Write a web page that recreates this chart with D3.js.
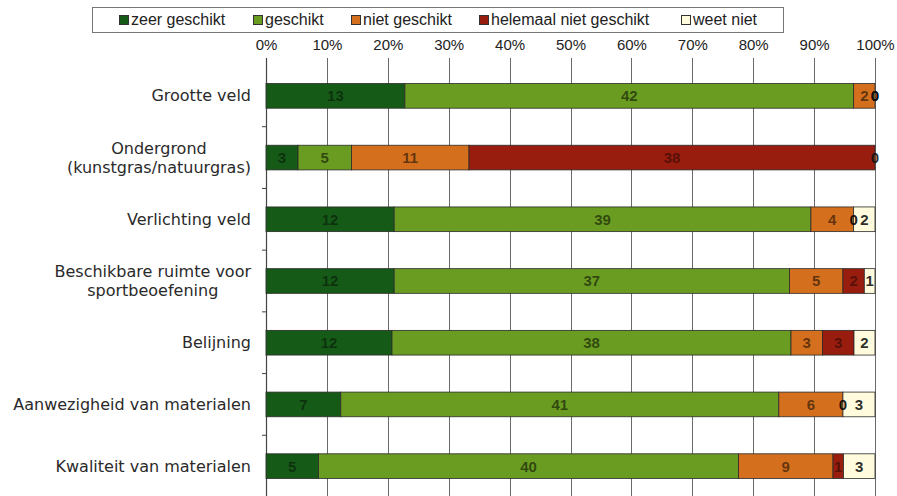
<!DOCTYPE html>
<html>
<head>
<meta charset="utf-8">
<script src="https://cdn.jsdelivr.net/npm/d3@7"></script>
<style>
  html, body { margin: 0; padding: 0; background: #fff; }
  svg { display: block; }
</style>
</head>
<body>
<svg id="chart" width="897" height="496"></svg>
<script>
// ---- data ----
const categories = [
  "Grootte veld",
  "Ondergrond\n(kunstgras/natuurgras)",
  "Verlichting veld",
  "Beschikbare ruimte voor\nsportbeoefening",
  "Belijning",
  "Aanwezigheid van materialen",
  "Kwaliteit van materialen"
];
const seriesNames = ["zeer geschikt", "geschikt", "niet geschikt", "helemaal niet geschikt", "weet niet"];
const zeerGeschikt   = [13, 3, 12, 12, 12, 7, 5];
const geschikt       = [42, 5, 39, 37, 38, 41, 40];
const nietGeschikt   = [2, 11, 4, 5, 3, 6, 9];
const helemaalNiet   = [0, 38, 0, 2, 3, 0, 1];
const weetNiet       = [0, 0, 2, 1, 2, 3, 3];
const tickValues = [0, 0.1, 0.2, 0.3, 0.4, 0.5, 0.6, 0.7, 0.8, 0.9, 1];
const tickLabels = ["0%", "10%", "20%", "30%", "40%", "50%", "60%", "70%", "80%", "90%", "100%"];
const colors = ["#165a18", "#6a9c22", "#d4701d", "#991d0e", "#fffbdc"];

// ---- build table ----
const seriesValues = [zeerGeschikt, geschikt, nietGeschikt, helemaalNiet, weetNiet];
const rows = categories.map((c, i) => {
  const r = { cat: c };
  seriesNames.forEach((s, j) => r[s] = seriesValues[j][i]);
  r.total = d3.sum(seriesValues, v => v[i]);
  return r;
});
const stack = d3.stack().keys(seriesNames)
  .value((d, k) => d[k] / d.total);
const stacked = stack(rows);

const svg = d3.select("#chart");
const plotLeft = 266, plotRight = 875, plotTop = 65, plotBottom = 497;
const x = d3.scaleLinear().domain([0, 1]).range([plotLeft, plotRight]);
const y = d3.scaleBand().domain(categories).range([plotTop, plotBottom])
  .paddingInner(0.6).paddingOuter(0.3);

// gridlines
svg.append("g").selectAll("line").data(tickValues).join("line")
  .attr("x1", d => Math.round(x(d)) + 0.5).attr("x2", d => Math.round(x(d)) + 0.5)
  .attr("y1", 58).attr("y2", 496)
  .attr("stroke", "#6a6a6a").attr("stroke-width", 1);

// left axis
svg.append("line")
  .attr("x1", plotLeft + 0.5).attr("x2", plotLeft + 0.5).attr("y1", 58).attr("y2", 496)
  .attr("stroke", "#444").attr("stroke-width", 1.2);
const step = y.step();
svg.append("g").selectAll("line").data(categories).join("line")
  .attr("x1", plotLeft - 4).attr("x2", plotLeft)
  .attr("y1", d => y(d) + y.bandwidth() / 2 + step / 2)
  .attr("y2", d => y(d) + y.bandwidth() / 2 + step / 2)
  .attr("stroke", "#444");

// top axis
const axis = d3.axisTop(x).tickValues(tickValues)
  .tickFormat((d, i) => tickLabels[i]).tickSize(0).tickPadding(0);
const ax = svg.append("g").attr("transform", "translate(0,50)").call(axis);
ax.select(".domain").remove();
ax.selectAll("text")
  .attr("font-family", "'Liberation Sans Narrow', 'Arial Narrow', 'Liberation Sans', sans-serif")
  .attr("font-size", 15).attr("fill", "#222");

// bars
const groups = svg.append("g").selectAll("g").data(stacked).join("g")
  .attr("fill", (d, i) => colors[i]);
groups.selectAll("rect").data(d => d).join("rect")
  .attr("x", d => x(d[0]))
  .attr("y", d => y(d.data.cat))
  .attr("width", d => Math.max(0, x(d[1]) - x(d[0])))
  .attr("height", y.bandwidth())
  .attr("stroke", "#2b2b2b").attr("stroke-width", 0.8);

// value labels
stacked.forEach((ser, si) => {
  svg.append("g").selectAll("text").data(ser).join("text")
    .attr("x", d => (x(d[0]) + x(d[1])) / 2)
    .attr("y", d => y(d.data.cat) + y.bandwidth() / 2)
    .attr("dy", "0.36em")
    .attr("text-anchor", "middle")
    .attr("font-family", "'Liberation Sans Narrow', 'Arial Narrow', 'Liberation Sans', sans-serif")
    .attr("font-weight", "bold")
    .attr("font-size", 15)
    .attr("fill", si === 4 ? "#111" : "#000")
    .attr("fill-opacity", d => (si === 4 || d.data[ser.key] === 0) ? 0.9 : (si === 0 || si === 3 ? 0.45 : 0.55))
    .text(d => d.data[ser.key]);
});

// category labels
const labelX = 251;
categories.forEach(c => {
  const lines = c.split("\n");
  const cy = y(c) + y.bandwidth() / 2;
  const g = svg.append("g");
  const lh = 19;
  const texts = lines.map((ln, i) => g.append("text")
    .attr("y", cy + (i - (lines.length - 1) / 2) * lh)
    .attr("dy", "0.35em")
    .attr("font-family", "'DejaVu Sans', sans-serif")
    .attr("font-size", 16)
    .attr("fill", "#2a2a2a")
    .text(ln));
  if (lines.length === 1) {
    texts[0].attr("x", labelX).attr("text-anchor", "end");
  } else {
    const w = d3.max(texts, t => t.node().getComputedTextLength());
    texts.forEach(t => t.attr("x", labelX - w / 2).attr("text-anchor", "middle"));
  }
});

// legend
const lg = svg.append("g");
lg.append("rect").attr("x", 92.5).attr("y", 7.5).attr("width", 691).attr("height", 25)
  .attr("fill", "#fff").attr("stroke", "#777").attr("stroke-width", 1);
const legendX = [119, 253, 351, 479, 681];
seriesNames.forEach((s, i) => {
  lg.append("rect").attr("x", legendX[i] + 0.5).attr("y", 15.5).attr("width", 9).attr("height", 9)
    .attr("fill", colors[i]).attr("stroke", "#333").attr("stroke-width", 1);
  lg.append("text").attr("x", legendX[i] + 12).attr("y", 25)
    .attr("font-family", "'Liberation Sans', Arial, sans-serif")
    .attr("font-size", 16).attr("fill", "#222").text(s);
});
</script>
</body>
</html>
